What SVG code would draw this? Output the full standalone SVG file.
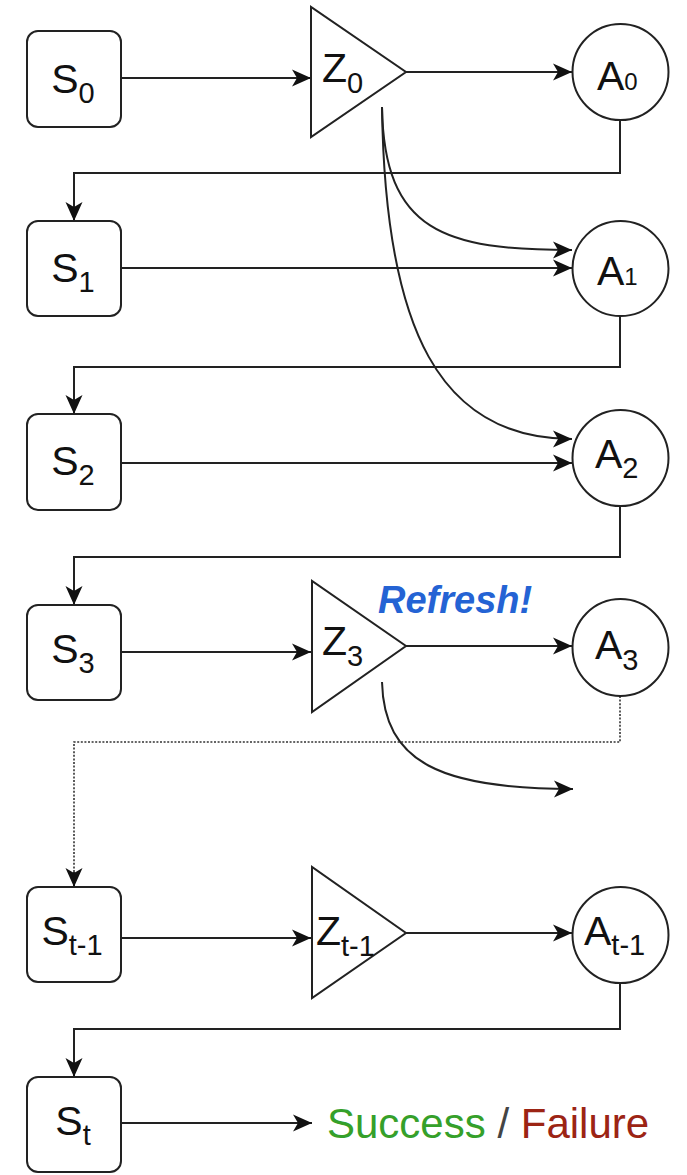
<svg xmlns="http://www.w3.org/2000/svg" width="687" height="1175" viewBox="0 0 687 1175">
<style>
.box{fill:#fff;stroke:#222;stroke-width:2}
.lbl{font-family:"Liberation Sans",Helvetica,Arial,sans-serif;font-size:41px;fill:#111}
.sub{font-size:29px}
.sm{font-size:24px}
.edge{fill:none;stroke:#222;stroke-width:2}
.dot{fill:none;stroke:#333;stroke-width:1.6;stroke-dasharray:2 1.6}
</style>
<defs>
<marker id="arr" markerUnits="userSpaceOnUse" markerWidth="22" markerHeight="22" refX="20" refY="10" orient="auto">
<path d="M1,1.5 L20,10 L1,18.5 L6,10 z" fill="#111"/>
</marker>
</defs>
<rect width="687" height="1175" fill="#fff"/>
<g id="connectors">
<path class="edge" d="M121,78 H311" marker-end="url(#arr)"/>
<path class="edge" d="M406,72 H572" marker-end="url(#arr)"/>
<path class="edge" d="M620,120 V173 H74 V221" marker-end="url(#arr)"/>
<path class="edge" d="M121,268 H572" marker-end="url(#arr)"/>
<path class="edge" d="M382,107 C384,232 445,250 572,250" marker-end="url(#arr)"/>
<path class="edge" d="M382,107 C385,330 440,439 572,439" marker-end="url(#arr)"/>
<path class="edge" d="M620,316 V367 H74 V414" marker-end="url(#arr)"/>
<path class="edge" d="M121,463 H572" marker-end="url(#arr)"/>
<path class="edge" d="M620,506 V557 H74 V605" marker-end="url(#arr)"/>
<path class="edge" d="M121,652 H311" marker-end="url(#arr)"/>
<path class="edge" d="M406,646 H572" marker-end="url(#arr)"/>
<path class="edge" d="M382,682 C384,762 440,789 573,789" marker-end="url(#arr)"/>
<path class="dot" d="M620,696 V742 H74 V876"/>
<path class="edge" d="M74,872 V887" marker-end="url(#arr)"/>
<path class="edge" d="M121,938 H311" marker-end="url(#arr)"/>
<path class="edge" d="M406,933 H572" marker-end="url(#arr)"/>
<path class="edge" d="M620,983 V1029 H74 V1077" marker-end="url(#arr)"/>
<path class="edge" d="M121,1123 H312" marker-end="url(#arr)"/>
</g>
<g id="S0"><rect class="box" x="27" y="31" width="94" height="96" rx="11"/><text class="lbl" x="73" y="93" text-anchor="middle">S<tspan class="sub" dy="10">0</tspan></text></g>
<g id="Z0"><polygon class="box" points="311,7 311,137 406,72"/><text class="lbl" x="322" y="82">Z<tspan class="sub" dy="11">0</tspan></text></g>
<g id="A0"><ellipse class="box" cx="620.5" cy="72" rx="48" ry="48"/><text class="lbl" x="597" y="90">A<tspan class="sm">0</tspan></text></g>
<g id="S1"><rect class="box" x="27" y="221" width="94" height="95" rx="11"/><text class="lbl" x="73" y="282" text-anchor="middle">S<tspan class="sub" dy="10">1</tspan></text></g>
<g id="A1"><ellipse class="box" cx="620.5" cy="268.5" rx="48" ry="47.5"/><text class="lbl" x="597" y="285">A<tspan class="sm">1</tspan></text></g>
<g id="S2"><rect class="box" x="27" y="414" width="94" height="96" rx="11"/><text class="lbl" x="73" y="475" text-anchor="middle">S<tspan class="sub" dy="10">2</tspan></text></g>
<g id="A2"><ellipse class="box" cx="620.5" cy="458" rx="48" ry="48"/><text class="lbl" x="595" y="468">A<tspan class="sub" dy="10">2</tspan></text></g>
<g id="S3"><rect class="box" x="27" y="605" width="94" height="95" rx="11"/><text class="lbl" x="73" y="663" text-anchor="middle">S<tspan class="sub" dy="10">3</tspan></text></g>
<g id="Z3"><polygon class="box" points="312,581 312,712 406,646"/><text class="lbl" x="322" y="655">Z<tspan class="sub" dy="11">3</tspan></text></g>
<g id="refresh"><text x="378" y="613" font-family="'Liberation Sans',Helvetica,Arial,sans-serif" font-size="38" font-weight="bold" font-style="italic" fill="#2463d4">Refresh!</text></g>
<g id="A3"><ellipse class="box" cx="620.5" cy="647.5" rx="48" ry="48.5"/><text class="lbl" x="595" y="659">A<tspan class="sub" dy="11">3</tspan></text></g>
<g id="St-1"><rect class="box" x="27" y="887" width="94" height="95" rx="11"/><text class="lbl" x="72" y="945" text-anchor="middle">S<tspan class="sub" dy="10">t-1</tspan></text></g>
<g id="Zt-1"><polygon class="box" points="312,867 312,998 406,933"/><text class="lbl" x="316" y="945">Z<tspan class="sub" dy="11" font-size="28">t-1</tspan></text></g>
<g id="At-1"><ellipse class="box" cx="620.5" cy="935" rx="48" ry="48"/><text class="lbl" x="584" y="945">A<tspan class="sub" dy="10" font-size="28">t-1</tspan></text></g>
<g id="St"><rect class="box" x="27" y="1077" width="94" height="95" rx="11"/><text class="lbl" x="73" y="1135" text-anchor="middle">S<tspan class="sub" dy="10">t</tspan></text></g>
<g id="result"><text x="327" y="1138" font-family="'Liberation Sans',Helvetica,Arial,sans-serif" font-size="42"><tspan fill="#35a02a">Success</tspan><tspan fill="#444"> / </tspan><tspan fill="#9c2414">Failure</tspan></text></g>
</svg>
